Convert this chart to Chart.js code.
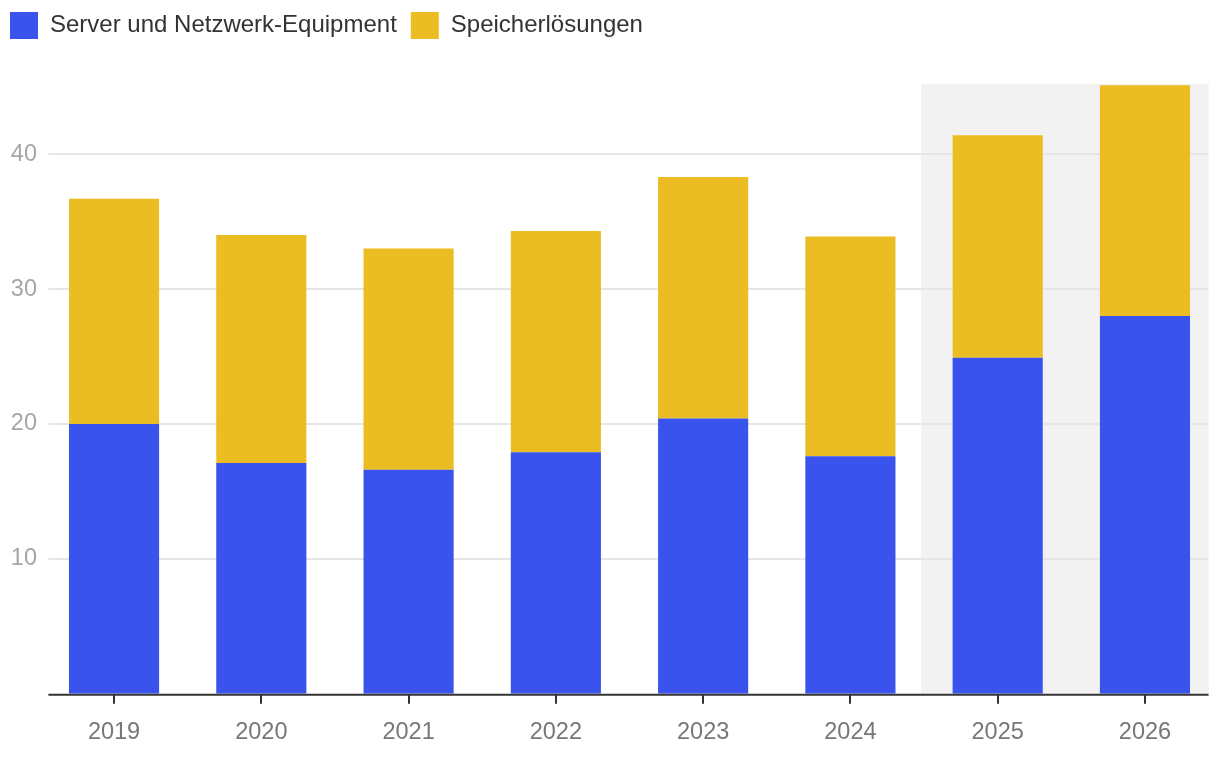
<!DOCTYPE html>
<html>
<head>
<meta charset="utf-8">
<script src="https://cdn.jsdelivr.net/npm/chart.js@4.4.1/dist/chart.umd.min.js"></script>
<style>
  html, body { margin: 0; padding: 0; background: #ffffff; }
  #wrap { position: relative; width: 1220px; height: 758px; }
</style>
</head>
<body>
<div id="wrap"><canvas id="c"></canvas></div>
<script>
const categories = ['2019', '2020', '2021', '2022', '2023', '2024', '2025', '2026'];
const serverValues = [20.0, 17.1, 16.6, 17.9, 20.4, 17.6, 24.9, 28.0];
const storageValues = [16.7, 16.9, 16.4, 16.4, 17.9, 16.3, 16.5, 17.1];
const seriesNames = ['Server und Netzwerk-Equipment', 'Speicherlösungen'];
const yTickValues = [10, 20, 30, 40];
const forecastCategories = ['2025', '2026'];
const yMax = 45.2;

const FONT = '"Liberation Sans", Arial, Helvetica, sans-serif';

const decor = {
  id: 'decor',
  beforeLayout(chart) {
    if (chart.legend && !chart.legend._patched) {
      const orig = chart.legend.fit;
      chart.legend.fit = function () { orig.call(this); this.height = 86; };
      chart.legend._patched = true;
    }
  },
  afterLayout(chart) {
    if (chart.legend) { chart.legend.left -= 4; chart.legend.right -= 4; }
  },
  beforeDatasetsDraw(chart) {
    const {ctx, chartArea: a, scales: {x, y}} = chart;
    ctx.save();
    const firstIdx = categories.indexOf(forecastCategories[0]);
    const bandLeft = (x.getPixelForValue(firstIdx - 1) + x.getPixelForValue(firstIdx)) / 2 - 3;
    ctx.fillStyle = '#f2f2f2';
    ctx.fillRect(bandLeft, a.top, a.right - 10 - bandLeft, a.bottom - a.top);
    ctx.strokeStyle = '#e6e6e6';
    ctx.lineWidth = 2;
    yTickValues.forEach(v => {
      const py = Math.round(y.getPixelForValue(v));
      ctx.beginPath();
      ctx.moveTo(a.left + 8, py);
      ctx.lineTo(a.right - 10, py);
      ctx.stroke();
    });
    ctx.restore();
  },
  afterDatasetsDraw(chart) {
    const {ctx, chartArea: a} = chart;
    ctx.save();
    ctx.strokeStyle = '#333333';
    ctx.lineWidth = 2;
    ctx.beginPath();
    ctx.moveTo(a.left + 8, a.bottom + 1);
    ctx.lineTo(a.right - 10, a.bottom + 1);
    ctx.stroke();
    ctx.restore();
  }
};

new Chart(document.getElementById('c'), {
  type: 'bar',
  data: {
    labels: categories,
    datasets: [
      { label: seriesNames[0], data: serverValues, backgroundColor: '#3a53ec', borderWidth: 0 },
      { label: seriesNames[1], data: storageValues, backgroundColor: '#ebbd22', borderWidth: 0 }
    ]
  },
  options: {
    responsive: true,
    maintainAspectRatio: false,
    animation: false,
    datasets: { bar: { categoryPercentage: 1, barPercentage: 0.612 } },
    layout: { padding: { top: -2, left: 0, right: 1.4, bottom: -4 } },
    plugins: {
      legend: {
        position: 'top',
        align: 'start',
        labels: {
          boxWidth: 28,
          boxHeight: 27,
          padding: 14,
          color: '#333333',
          font: { family: FONT, size: 24 }
        }
      },
      tooltip: { enabled: false }
    },
    scales: {
      x: {
        stacked: true,
        offset: true,
        border: { display: false },
        grid: {
          offset: false,
          drawOnChartArea: false,
          drawTicks: true,
          tickLength: 10,
          color: '#333333',
          lineWidth: 2
        },
        ticks: {
          color: '#777777',
          padding: 15,
          font: { family: FONT, size: 23.5 },
          maxRotation: 0
        }
      },
      y: {
        stacked: true,
        min: 0,
        max: yMax,
        border: { display: false },
        grid: { display: false, drawTicks: false },
        afterFit(scale) { scale.width = 40.4; },
        ticks: {
          stepSize: 10,
          padding: 3.4,
          color: '#a6a6a6',
          font: { family: FONT, size: 23.5 },
          callback(v) { return yTickValues.includes(v) ? String(v) : null; }
        }
      }
    }
  },
  plugins: [decor]
});
</script>
</body>
</html>
